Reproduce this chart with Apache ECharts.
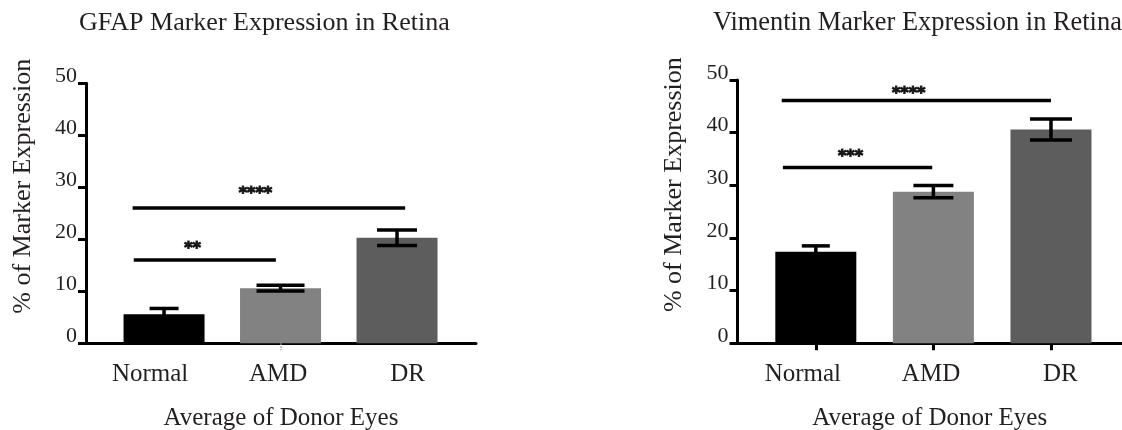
<!DOCTYPE html>
<html>
<head>
<meta charset="utf-8">
<script src="https://cdn.jsdelivr.net/npm/echarts@6/dist/echarts.min.js"></script>
<style>
html,body{margin:0;padding:0;background:#fff;}
#chart{width:1122px;height:430px;}
</style>
</head>
<body>
<div id="chart"></div>
<script>
// ---- data ----
const categories = ['Normal', 'AMD', 'DR'];
const gfapTitle = 'GFAP Marker Expression in Retina';
const vimTitle = 'Vimentin Marker Expression in Retina';
const yTickValues = [0, 10, 20, 30, 40, 50];
const gfapMean = [5.6, 10.6, 20.3];
const gfapErr = [1.1, 0.55, 1.5];
const vimMean = [17.4, 28.8, 40.6];
const vimErr = [1.1, 1.15, 2.0];
// significance comparisons: line height, start, end, label
const gfapSigY = [16, 26];
const gfapSigFrom = [-0.26, -0.27];
const gfapSigTo = [0.96, 2.07];
const gfapSigText = ['**', '****'];
const gfapStarX = [0.245, 0.785];
const gfapStarY = [18.1, 28.8];
const vimSigY = [33.4, 46.1];
const vimSigFrom = [-0.28, -0.29];
const vimSigTo = [0.99, 2.0];
const vimSigText = ['***', '****'];
const vimStarX = [0.295, 0.79];
const vimStarY = [35.4, 47.3];

// ---- styles ----
const barColors = ['#000000', '#828282', '#5d5d5d'];
const gfapCapHalf = [14.5, 24, 20];
const vimCapHalf = [14, 20, 21];
const FONT = 'Liberation Serif';
const TXT = '#231f20';

const chart = echarts.init(document.getElementById('chart'), null, {renderer: 'canvas'});

function makeXAxis(gi, min, max, tickVals, labelPos, tickStyle) {
  return {
    gridIndex: gi, type: 'value', min: min, max: max,
    axisLine: {show: true, onZero: false, lineStyle: {color: '#000', width: 3}},
    splitLine: {show: false},
    axisTick: {show: true, customValues: tickVals, length: 7, lineStyle: tickStyle},
    axisLabel: {
      customValues: labelPos, margin: 19,
      formatter: v => categories[Math.round(v)],
      fontFamily: FONT, fontSize: 25, color: TXT
    },
    name: 'Average of Donor Eyes', nameLocation: 'middle', nameGap: 63,
    nameTextStyle: {fontFamily: FONT, fontSize: 25, color: TXT}
  };
}
function makeYAxis(gi) {
  return {
    gridIndex: gi, type: 'value', min: 0, max: 50, interval: 10,
    axisLine: {show: true, onZero: false, lineStyle: {color: '#000', width: 3}},
    splitLine: {show: false},
    axisTick: {show: true, length: 8, lineStyle: {color: '#000', width: 3}},
    axisLabel: {
      margin: 9, fontFamily: FONT, fontSize: 22, color: TXT, verticalAlign: 'bottom', lineHeight: 14,
      formatter: v => yTickValues.indexOf(v) >= 0 ? String(v) : ''
    },
    name: '% of Marker Expression', nameLocation: 'middle', nameGap: 50,
    nameTextStyle: {fontFamily: FONT, fontSize: 26, color: TXT, padding: [0, 0, 0, 54]}
  };
}

function barSeries(gi, means) {
  return {
    type: 'bar', xAxisIndex: gi, yAxisIndex: gi, barWidth: 81, z: 2,
    data: means.map((m, i) => ({value: [i, m], itemStyle: {color: barColors[i]}}))
  };
}
function errSeries(gi, means, errs, capHalf) {
  return {
    type: 'custom', xAxisIndex: gi, yAxisIndex: gi, z: 4,
    data: means.map((m, i) => [i, m, errs[i]]),
    renderItem: function (params, api) {
      const x = api.value(0), m = api.value(1), e = api.value(2);
      const top = api.coord([x, m + e]);
      const bot = api.coord([x, m - e]);
      const half = capHalf[params.dataIndex];
      const st = {stroke: '#000', lineWidth: 3.5};
      return {type: 'group', children: [
        {type: 'line', shape: {x1: top[0], y1: top[1], x2: bot[0], y2: bot[1]}, style: st},
        {type: 'line', shape: {x1: top[0] - half, y1: top[1], x2: top[0] + half, y2: top[1]}, style: st},
        {type: 'line', shape: {x1: bot[0] - half, y1: bot[1], x2: bot[0] + half, y2: bot[1]}, style: st}
      ]};
    }
  };
}
function sigSeries(gi, ys, froms, tos) {
  return ys.map((y, k) => ({
    type: 'line', xAxisIndex: gi, yAxisIndex: gi, z: 5, symbol: 'none', silent: true,
    lineStyle: {color: '#000', width: 3.5},
    data: [[froms[k], y], [tos[k], y]]
  }));
}
function starSeries(gi, xs, ys, texts) {
  return {
    type: 'scatter', xAxisIndex: gi, yAxisIndex: gi, z: 6, symbolSize: 1, silent: true,
    itemStyle: {color: 'rgba(0,0,0,0)'},
    data: xs.map((x, k) => [x, ys[k], texts[k]]),
    label: {show: true, position: 'inside', formatter: p => p.value[2],
      fontFamily: 'DejaVu Sans', fontWeight: 'bold', fontSize: 16, color: '#000',
      textBorderColor: '#000', textBorderWidth: 1.2}
  };
}

const option = {
  backgroundColor: '#fff',
  animation: false,
  title: [
    {text: gfapTitle, left: 74, top: 5, textStyle: {fontFamily: FONT, fontSize: 26, fontWeight: 'normal', color: TXT}},
    {text: vimTitle, left: 708, top: 5, textStyle: {fontFamily: FONT, fontSize: 26.4, fontWeight: 'normal', color: TXT}}
  ],
  grid: [
    {left: 86, top: 83.3, width: 390, height: 260, containLabel: false, outerBoundsMode: 'none'},
    {left: 737.5, top: 80, width: 384.5, height: 263.3, containLabel: false, outerBoundsMode: 'none'}
  ],
  xAxis: [
    makeXAxis(0, -0.67, 2.678, [1], [-0.12, 0.98, 2.09], {color: '#999', width: 1.5, type: 'dotted'}),
    makeXAxis(1, -0.666, 2.604, [0, 1, 2], [-0.11, 0.98, 2.08], {color: '#000', width: 3})
  ],
  yAxis: [makeYAxis(0), makeYAxis(1)],
  series: [
    barSeries(0, gfapMean),
    errSeries(0, gfapMean, gfapErr, gfapCapHalf),
    ...sigSeries(0, gfapSigY, gfapSigFrom, gfapSigTo),
    starSeries(0, gfapStarX, gfapStarY, gfapSigText),
    barSeries(1, vimMean),
    errSeries(1, vimMean, vimErr, vimCapHalf),
    ...sigSeries(1, vimSigY, vimSigFrom, vimSigTo),
    starSeries(1, vimStarX, vimStarY, vimSigText)
  ]
};
chart.setOption(option);
</script>
</body>
</html>
